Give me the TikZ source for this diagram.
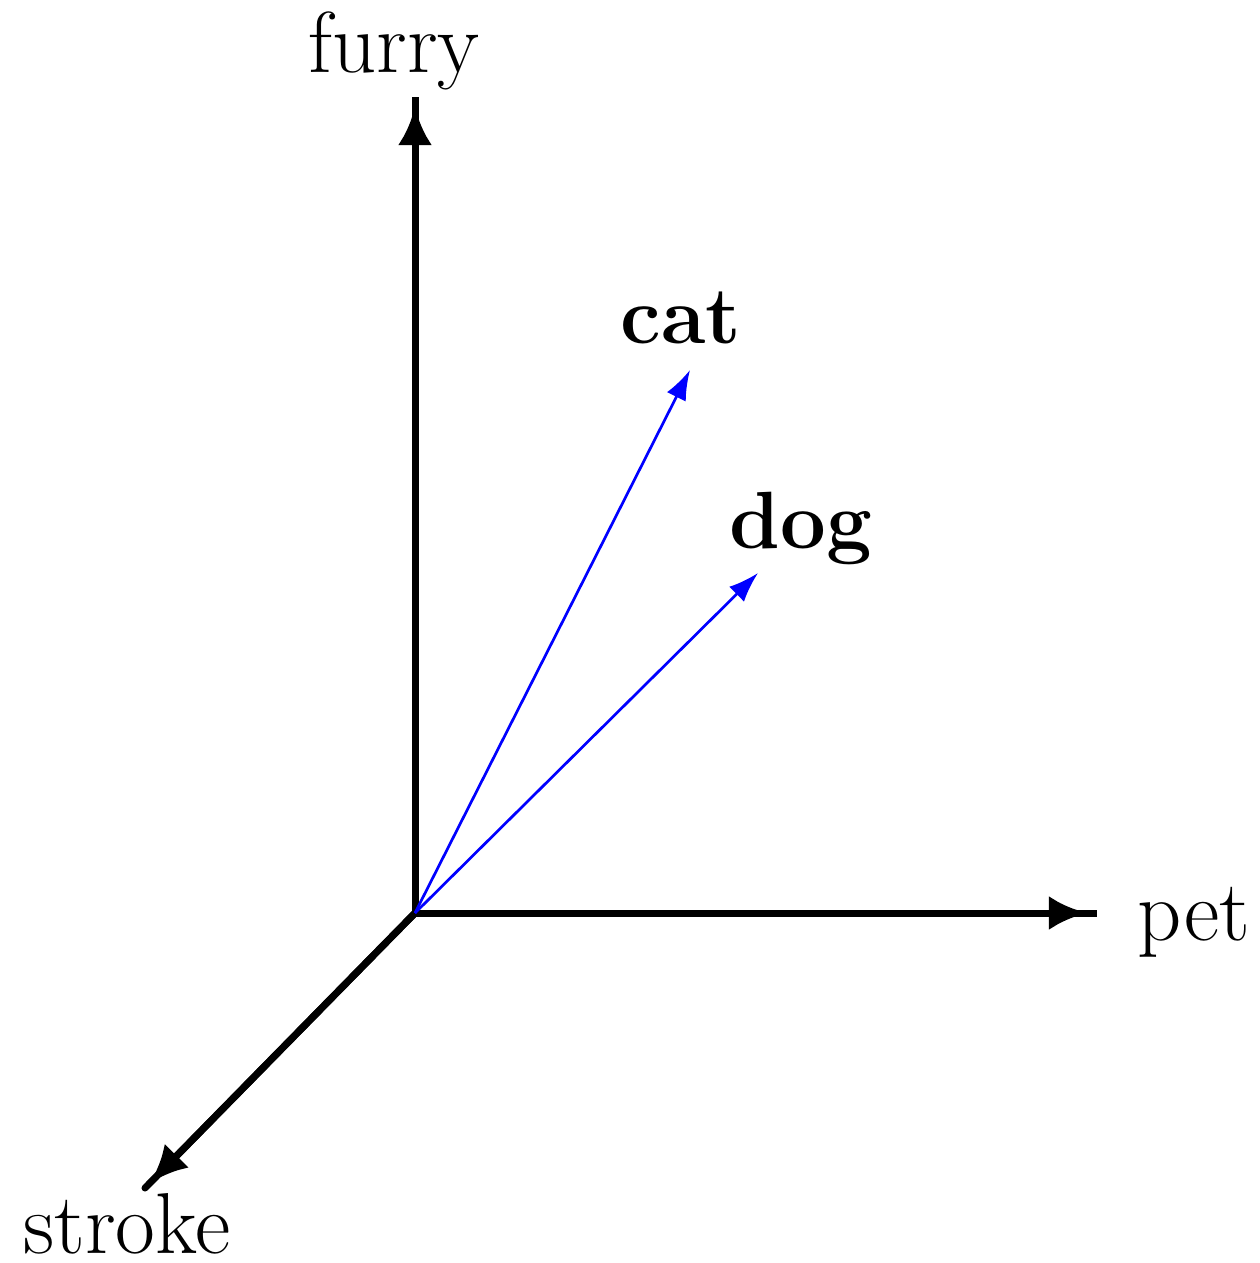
\documentclass[tikz,border=0pt]{standalone}
\usetikzlibrary{arrows.meta}
\begin{document}
\begin{tikzpicture}[x=0.01cm,y=-0.01cm,
  axis/.style={line width=0.07cm},
  axtip/.style={-{Latex[length=0.38cm,width=0.34cm]}},
  vec/.style={blue,line width=0.027cm,-{Latex[length=0.3cm,width=0.21cm]}},
  lab/.style={anchor=base,inner sep=0pt,font=\fontsize{24.6}{30}\selectfont},
  blab/.style={anchor=base,inner sep=0pt,font=\fontsize{23.1}{28}\selectfont\bfseries}]
\useasboundingbox (0,0) rectangle (1260,1263);
\coordinate (o) at (415,913);
\coordinate (ftip) at (415,107);
\coordinate (fend) at (415,97);
\coordinate (ptip) at (1087,913);
\coordinate (pend) at (1097,913);
\coordinate (stip) at (150,1183);
\coordinate (send) at (145,1188);
\coordinate (cat) at (690,370);
\coordinate (dog) at (758,573);
\draw[axis] (o) -- (fend);
\draw[axis,axtip] (o) -- (ftip);
\draw[axis] (o) -- (pend);
\draw[axis,axtip] (o) -- (ptip);
\draw[axis,line cap=round] (o) -- (send);
\draw[axis,axtip] (o) -- (stip);
\draw[vec] (o) -- (cat);
\draw[vec] (o) -- (dog);
\node[lab] (lf) at (394,72) {furry};
\node[lab] (lp) at (1194,940) {pet};
\node[lab] (ls) at (127,1253) {stroke};
\node[blab] (lc) at (681,343) {cat};
\node[blab] (ld) at (801,548) {dog};
\end{tikzpicture}
\end{document}
